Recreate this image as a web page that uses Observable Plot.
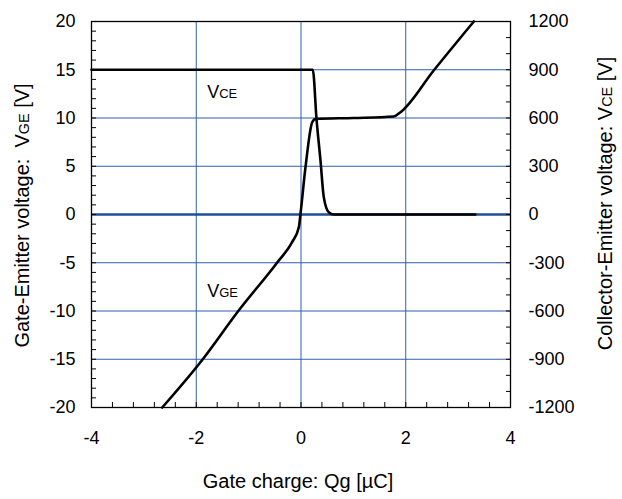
<!DOCTYPE html>
<html>
<head>
<meta charset="utf-8">
<script src="https://cdn.jsdelivr.net/npm/d3@7"></script>
<script src="https://cdn.jsdelivr.net/npm/@observablehq/plot@0.6"></script>
<style>
  html, body { margin: 0; padding: 0; background: #fff; }
</style>
</head>
<body>
<div id="chart"></div>
<script>
// ---- data ----
// Gate-emitter voltage curve
const vgeQ = [-2.65, -1.89, -1.19, -0.45, -0.17, -0.04, -0.01, 0.086, 0.214, 0.277, 1.0, 1.77, 1.90, 2.53, 3.30];
const vgeV = [-20, -15.1, -9.95, -4.94, -2.87, -1.3, 0.05, 4.9, 9.56, 9.9, 10.0, 10.15, 10.6, 14.9, 20];
// Collector-emitter voltage curve [V]
const vceQ = [-4, 0.225, 0.296, 0.372, 0.435, 0.53, 0.626, 3.33];
const vceV = [900, 900, 595, 336, 108, 14, 0, 0];

// axis ticks
const xTicks = [-4, -2, 0, 2, 4];
const yLeftTicks = [-20, -15, -10, -5, 0, 5, 10, 15, 20];
const yRightTicks = [-1200, -900, -600, -300, 0, 300, 600, 900, 1200];
const xGrid = [-2, 0, 2];
const yGrid = [-15, -10, -5, 5, 10, 15];

// curve labels
const labelText = ["VCE", "VGE"];
const labelQ = [-1.79, -1.79];
const labelV = [12.7, -7.9];

// titles
const xTitle = "Gate charge: Qg [µC]";
const yLeftTitle = "Gate-Emitter voltage:  VGE [V]";
const yRightTitle = "Collector-Emitter voltage: VCE [V]";

const ratio = 60; // right axis volts per left axis volt

const vge = vgeQ.map((q, i) => ({q, v: vgeV[i]}));
const vce = vceQ.map((q, i) => ({q, v: vceV[i] / ratio}));
const labels = labelText.map((t, i) => ({t, q: labelQ[i], v: labelV[i]}));

const gridColor = "#2f5db0";
const font = "'Liberation Sans', Arial, sans-serif";
const fmt = d => String(Math.round(d * 1000) / 1000);

const chart = Plot.plot({
  width: 622,
  height: 499,
  marginLeft: 91,
  marginRight: 112,
  marginTop: 21,
  marginBottom: 92,
  style: {fontFamily: font, fontSize: "18px", color: "#000", background: "#fff"},
  x: {domain: [-4, 4]},
  y: {domain: [-20, 20]},
  marks: [
    Plot.gridX(xGrid, {stroke: gridColor, strokeOpacity: 1, strokeWidth: 1}),
    Plot.gridY(yGrid, {stroke: gridColor, strokeOpacity: 1, strokeWidth: 1}),
    Plot.ruleY([0], {stroke: "#1f4e96", strokeWidth: 2.5}),
    Plot.line(vce, {x: "q", y: "v", curve: "monotone-x", stroke: "#000", strokeWidth: 2.6}),
    Plot.line(vge, {x: "q", y: "v", curve: "monotone-x", stroke: "#000", strokeWidth: 2.6}),
    Plot.frame({stroke: "#000", strokeWidth: 1.3}),
    // left axis
    Plot.axisY(yLeftTicks, {anchor: "left", tickSize: 0, tickPadding: 16, fontSize: 18, label: null, tickFormat: fmt}),
    Plot.axisY(d3.range(-20, 21, 1), {anchor: "left", tickSize: -5, text: null, label: null}),
    // right axis
    Plot.axisY(yRightTicks.map(d => d / ratio), {anchor: "right", tickSize: 0, tickPadding: 18, fontSize: 18, label: null, tickFormat: d => String(Math.round(d * ratio))}),
    Plot.axisY(d3.range(-1200, 1201, 100).map(d => d / ratio), {anchor: "right", tickSize: -5, text: null, label: null}),
    // bottom axis
    Plot.axisX(xTicks, {anchor: "bottom", tickSize: 0, tickPadding: 24, fontSize: 18, label: null, tickFormat: fmt}),
    Plot.axisX(d3.range(-10, 11, 1).map(d => d * 0.4), {anchor: "bottom", tickSize: -5, text: null, label: null}),
    // curve labels
    Plot.text(labels, {x: "q", y: "v", text: "t", textAnchor: "start", fontSize: 18, fill: "#000"}),
    // titles
    Plot.text([xTitle], {frameAnchor: "bottom", textAnchor: "middle", dy: 80, dx: -3, fontSize: 20, fill: "#000"}),
    Plot.text([yLeftTitle], {frameAnchor: "left", textAnchor: "middle", dx: -69, dy: 1, rotate: -90, fontSize: 20, fill: "#000"}),
    Plot.text([yRightTitle], {frameAnchor: "right", textAnchor: "middle", dx: 95, dy: -11, rotate: -90, fontSize: 20, fill: "#000"})
  ]
});

// render subscripts (CE / GE) at a smaller size
d3.select(chart).selectAll("text").each(function () {
  const t = this.textContent;
  const m = t.match(/^(.*V)(CE|GE)(.*)$/);
  if (!m) return;
  const sel = d3.select(this);
  sel.text(null);
  sel.append("tspan").text(m[1]);
  sel.append("tspan").attr("font-size", "0.72em").text(m[2]);
  if (m[3]) sel.append("tspan").text(m[3]);
});

document.getElementById("chart").appendChild(chart);
</script>
</body>
</html>
